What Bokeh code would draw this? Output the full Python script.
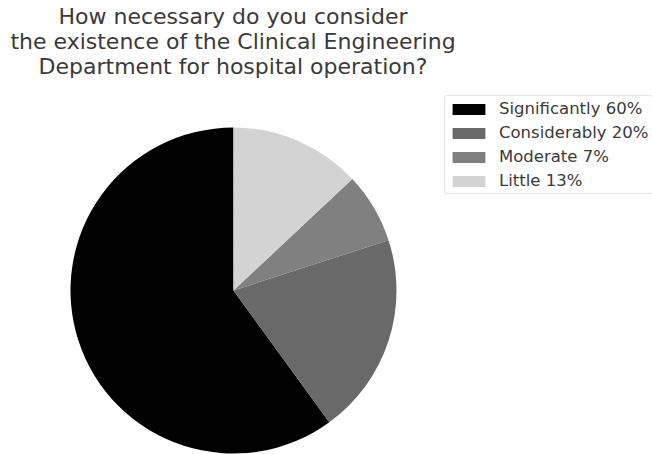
import numpy as np
from bokeh.plotting import figure
from bokeh.models import Range1d, ColumnDataSource, Legend, LegendItem
from bokeh.embed import file_html
from bokeh.resources import INLINE
from bokeh.core.properties import value

categories = ["Significantly", "Considerably", "Moderate", "Little"]
percent = [60, 20, 7, 13]
colors = ["#000000", "#696969", "#808080", "#d3d3d3"]
title_lines = [
    "How necessary do you consider",
    "the existence of the Clinical Engineering",
    "Department for hospital operation?",
]

W, H = 652, 454
p = figure(width=W, height=H, x_range=Range1d(0, W), y_range=Range1d(0, H),
           output_backend="svg", toolbar_location=None, min_border=0)
p.axis.visible = False
p.grid.visible = False
p.outline_line_color = None

frac = np.array(percent, dtype=float) / sum(percent)
ends = np.pi / 2 + 2 * np.pi * np.cumsum(frac)
starts = ends - 2 * np.pi * frac
labels = [f"{c} {v}%" for c, v in zip(categories, percent)]
src = ColumnDataSource(dict(start=starts, end=ends, color=colors, label=labels))

r = p.wedge(x=233, y=164, radius=163, radius_units="screen",
            start_angle="start", end_angle="end", fill_color="color",
            line_color=None, source=src)

tx = [232.5] * len(title_lines)
ty = [438 - 25 * i for i in range(len(title_lines))]
p.text(x=tx, y=ty, text=title_lines, text_align="center", text_baseline="alphabetic",
       text_font=value("DejaVu Sans"), text_font_size="22px", text_color="#3a3a3a")

legend = Legend(items=[LegendItem(label=lab, renderers=[r], index=i) for i, lab in enumerate(labels)],
                location=(444, 260), label_text_font="DejaVu Sans", label_text_font_size="16.5px",
                label_text_color="#3a3a3a", glyph_width=41, glyph_height=14, label_standoff=10,
                spacing=5, padding=3, margin=0, border_line_color="#cccccc", border_line_width=1,
                background_fill_alpha=0.8)
if "border_radius" in Legend.properties():
    legend.border_radius = 3
p.add_layout(legend)

open("out.html", "w").write(file_html(p, INLINE))
